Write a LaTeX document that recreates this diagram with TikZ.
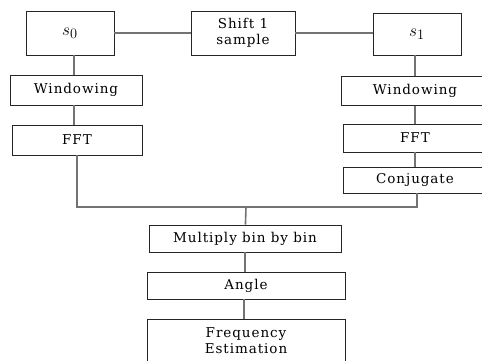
\documentclass[tikz,border=0pt]{standalone}
\usepackage{fontspec}
\setmainfont{DejaVu Serif}[LetterSpace=7]
\begin{document}
\begin{tikzpicture}[x=1pt,y=-1pt,
    box/.style={draw=black!85,line width=0.9pt,inner sep=0pt,align=center,
      font=\fontsize{13.5}{15.5}\selectfont},
    sig/.style={box,font=\fontsize{19}{20}\selectfont},
    link/.style={draw=black!55,line width=1.6pt}]
  \useasboundingbox (0,0) rectangle (482,360);
  \clip (0,0) rectangle (482,360);
  \draw
    (70,33) node[sig,minimum width=88pt,minimum height=44pt] (s0){$s_0$}
    (243,33) node[box,minimum width=104pt,minimum height=44pt] (shift){Shift 1\\sample}
    (417,34) node[sig,minimum width=88pt,minimum height=42pt] (s1){$s_1$}
    (76,90) node[box,minimum width=132pt,minimum height=30pt] (win0){Windowing}
    (77,140) node[box,minimum width=130pt,minimum height=30pt] (fft0){FFT}
    (415,91) node[box,minimum width=148pt,minimum height=29pt] (win1){Windowing}
    (415,138) node[box,minimum width=144pt,minimum height=28pt] (fft1){FFT}
    (415,180) node[box,minimum width=144pt,minimum height=26pt] (conj){Conjugate}
    (245,238.5) node[box,minimum width=192pt,minimum height=27pt] (mult){Multiply bin by bin}
    (246,285.5) node[box,minimum width=198pt,minimum height=27pt] (angle){Angle}
    (246,340.5) node[box,minimum width=198pt,minimum height=43pt] (freq){Frequency\\Estimation};
  \coordinate (join) at (246,207);
  \begin{scope}[link]
    \draw (s0) to (shift);
    \draw (shift.east) to (shift.east -| s1.west);
    \draw ([xshift=4pt]s0.south) to ([xshift=4pt]s0.south |- win0.north);
    \draw ([xshift=-2pt]win0.south) to ([xshift=-2pt]win0.south |- fft0.north);
    \draw (s1.south -| win1) to (win1);
    \draw (win1) to (fft1);
    \draw (fft1) to (conj);
    \draw (fft0.south) |- (join) -| ([xshift=2pt]conj.south);
    \draw (join) to (mult);
    \draw (mult.south) to (mult.south |- angle.north);
    \draw ([xshift=-2pt]angle.south) to ([xshift=-2pt]angle.south |- freq.north);
  \end{scope}
\end{tikzpicture}
\end{document}
